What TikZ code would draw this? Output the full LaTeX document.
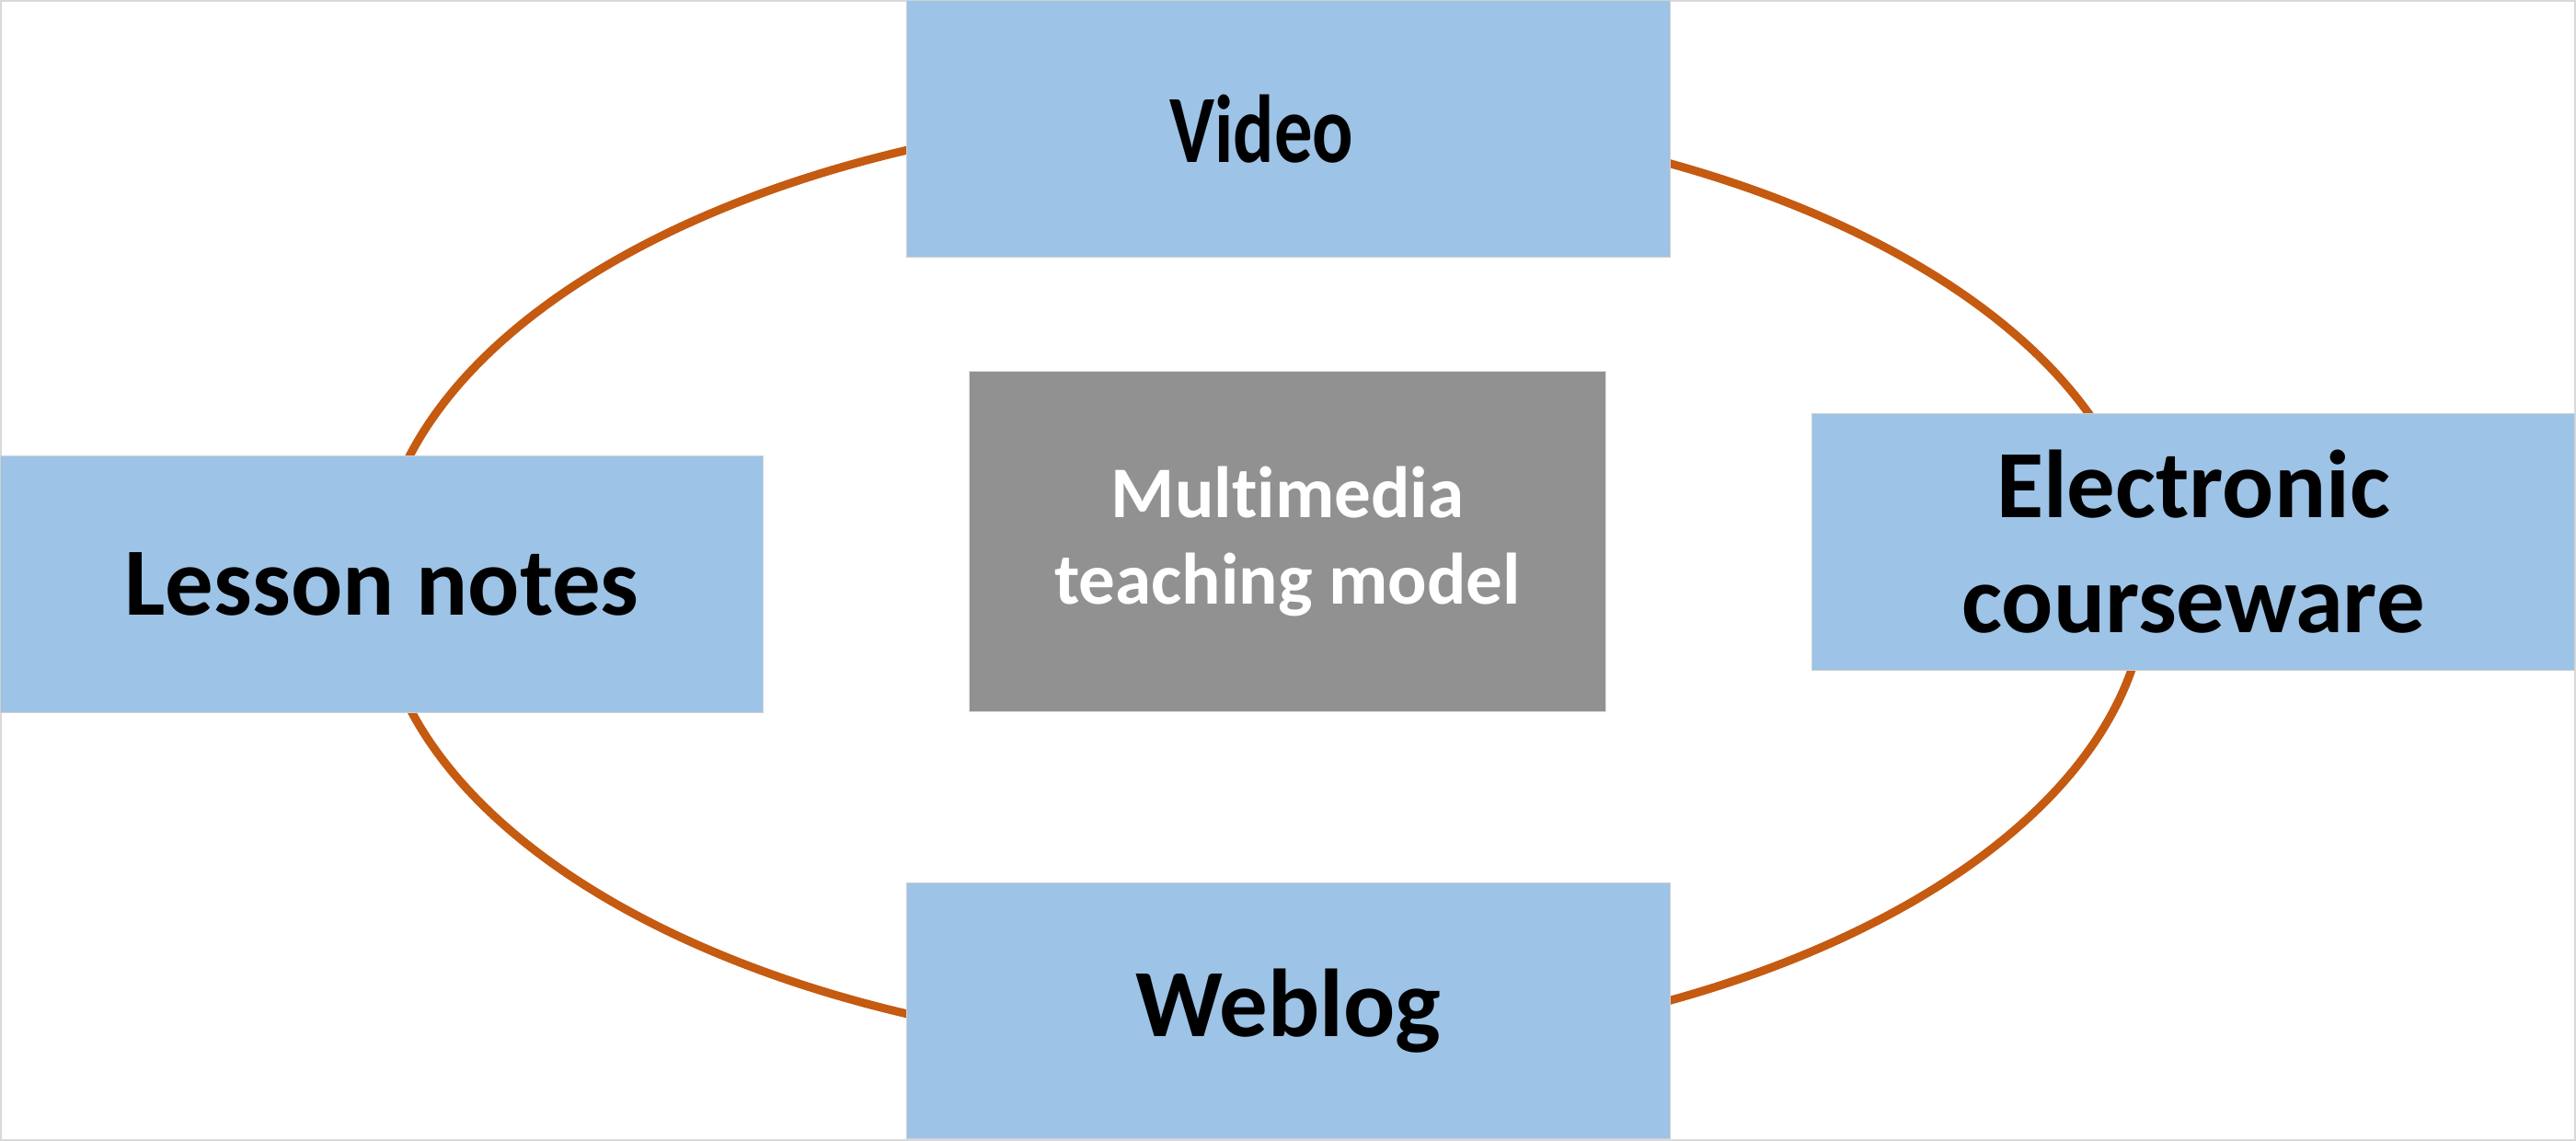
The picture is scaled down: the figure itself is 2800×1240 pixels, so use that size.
\documentclass[tikz,border=0pt]{standalone}
\usepackage{graphicx}
\usepackage{fontspec}
\setmainfont{Carlito}[Ligatures=NoCommon]
\definecolor{boxblue}{HTML}{9DC3E6}
\definecolor{coregray}{HTML}{919191}
\definecolor{ringorange}{HTML}{C55A11}
\begin{document}
\begin{tikzpicture}[x=0.01cm,y=-0.01cm,
  itembox/.style={rectangle, fill=boxblue, draw=black!18, line width=0.3pt,
    minimum width=8.29cm, minimum height=2.78cm, inner sep=0pt, align=center,
    font=\bfseries\fontsize{29.8}{35.5}\selectfont, text=black},
  corebox/.style={rectangle, fill=coregray, draw=black!12, line width=0.3pt,
    minimum width=6.91cm, minimum height=3.69cm, inner sep=0pt, align=center,
    font=\bfseries\fontsize{22.5}{26.5}\selectfont, text=white},
  ring/.style={draw=ringorange, line width=0.09cm}]
\fill[white] (0,0) rectangle (2800,1240);
\useasboundingbox (0,0) rectangle (2800,1240);
\draw[black!15, line width=0.02cm] (1,1) rectangle (2799,1239);
\draw[ring] (1372,632.5) ellipse [x radius=9.61cm, y radius=5.12cm];
\node[itembox] (video) at (1400.5,140) {\scalebox{0.79}[1]{Video}\hspace{0.58cm}};
\node[itembox] (lesson) at (415,635) {Lesson notes};
\node[itembox] (ecw) at (2384,589) {Electronic\\courseware};
\node[itembox] (weblog) at (1400.5,1098.5) {Weblog};
\node[corebox] (core) at (1399.5,588.5) {Multimedia\\teaching model};
\end{tikzpicture}
\end{document}
